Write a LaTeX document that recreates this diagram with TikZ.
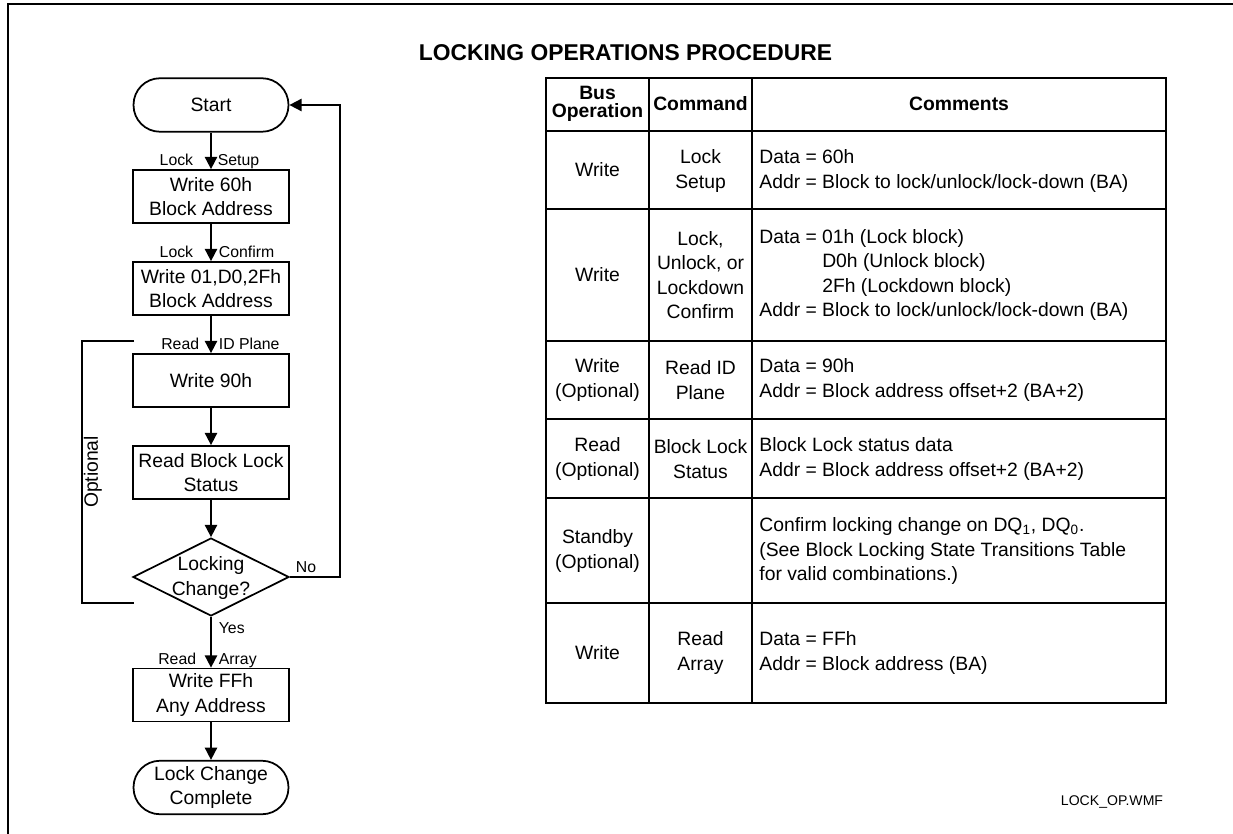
\documentclass[tikz,border=0pt]{standalone}
\usepackage{fontspec}
\setmainfont{Liberation Sans}
\usetikzlibrary{arrows.meta,shapes.geometric}

\newcommand{\chartfont}{\fontsize{11}{13.8}\selectfont}
\newcommand{\lblfont}{\fontsize{9}{10}\selectfont}

\tikzset{
  procbox/.style={draw, minimum width=3.12cm, minimum height=1.06cm, inner sep=1pt, align=center},
  termbox/.style={draw, rounded corners=0.53cm, minimum width=3.1cm, minimum height=1.07cm, inner sep=1pt, align=center},
  decision/.style={draw, diamond, minimum width=3.12cm, minimum height=1.56cm, inner sep=0pt},
  flow/.style={-{Triangle[length=7pt,width=7pt]}},
  lbl/.style={font=\lblfont, inner sep=0pt},
  cell/.style={align=center, inner sep=1pt},
  headcell/.style={align=center, inner sep=1pt, font=\fontsize{11}{10}\selectfont\bfseries},
  cmt/.style={align=left, anchor=west, inner sep=2pt}
}

\begin{document}
\begin{tikzpicture}[x=0.02cm, y=-0.02cm, line width=1pt, font=\chartfont]
  \useasboundingbox (0,0) rectangle (1233,834);

  % frame
  \draw[line width=1.3pt] (8,834) -- (8,4) -- (1233,4);

  % title
  \node[font=\fontsize{13}{15}\selectfont\bfseries] (title) at (625.5,53) {LOCKING OPERATIONS PROCEDURE};

  % flowchart
  \node[termbox] (start) at (211,105) {Start};
  \node[procbox] (setup) at (211,196.5) {Write 60h\\Block Address};
  \node[procbox] (confirm) at (211,288.5) {Write 01,D0,2Fh\\Block Address};
  \node[procbox] (idplane) at (211,380.5) {Write 90h};
  \node[procbox] (status) at (211,472.5) {Read Block Lock\\Status};
  \node[decision] (check) at (211,577) {};
  \node[align=center, inner sep=0pt] (checktxt) at (211,578) {Locking\\Change?};
  \node[procbox] (array) at (211,695) {Write FFh\\Any Address};
  \node[termbox] (done) at (211,787.5) {Lock Change\\Complete};

  \draw[flow] (start) -- (setup);
  \draw[flow] (setup) -- (confirm);
  \draw[flow] (confirm) -- (idplane);
  \draw[flow] (idplane) -- (status);
  \draw[flow] (status) -- (check);
  \draw[flow] (check) -- (array);
  \draw[flow] (array) -- (done);

  % loop back on No
  \coordinate (noturn) at (340,577);
  \draw[flow] (check.east) -- (noturn) |- (start.east);

  % command labels
  \node[lbl, anchor=base east] (l1a) at (194,166) {Lock};
  \node[lbl, anchor=base west] (l1b) at (217,166) {Setup};
  \node[lbl, anchor=base east] (l2a) at (194,258) {Lock};
  \node[lbl, anchor=base west] (l2b) at (218,258) {Confirm};
  \node[lbl, anchor=base east] (l3a) at (200,349) {Read};
  \node[lbl, anchor=base west] (l3b) at (218,349) {ID Plane};
  \node[lbl, anchor=base east] (l4a) at (197,664) {Read};
  \node[lbl, anchor=base west] (l4b) at (218,664) {Array};
  \node[lbl, anchor=base west] (nolbl) at (295,572) {No};
  \node[lbl, anchor=base west] (yeslbl) at (218,633) {Yes};

  % optional bracket
  \coordinate (optT) at (134,341);
  \coordinate (optB) at (134,603);
  \draw (optT) -- (82,341) -- (82,603) -- (optB);
  \node[rotate=90, inner sep=0pt] (opttxt) at (93,472) {Optional};

  % table grid
  \draw (546,78) rectangle (1166,703);
  \foreach \x in {649,752} \draw (\x,78) -- (\x,703);
  \foreach \y in {131,209,341,419,498,603} \draw (546,\y) -- (1166,\y);

  % header
  \node[headcell] (hop) at (597.5,104) {Bus\\Operation};
  \node[headcell] (hcmd) at (700.5,104) {Command};
  \node[headcell] (hcmt) at (959,104) {Comments};

  % bus operation column
  \node[cell] (op1) at (597.5,170) {Write};
  \node[cell] (op2) at (597.5,275) {Write};
  \node[cell] (op3) at (597.5,380) {Write\\(Optional)};
  \node[cell] (op4) at (597.5,459) {Read\\(Optional)};
  \node[cell] (op5) at (597.5,551) {Standby\\(Optional)};
  \node[cell] (op6) at (597.5,653) {Write};

  % command column
  \node[cell] (cmd1) at (700.5,171) {Lock\\Setup};
  \node[cell] (cmd2) at (700.5,275) {Lock,\\Unlock, or\\Lockdown\\Confirm};
  \node[cell] (cmd3) at (700.5,380) {Read ID\\Plane};
  \node[cell] (cmd4) at (700.5,459) {Block Lock\\Status};
  \node[cell] (cmd6) at (700.5,653) {Read\\Array};

  % comments column
  \node[cmt] (cmt1) at (755,171) {Data = 60h\\Addr = Block to lock/unlock/lock-down (BA)};
  \node[cmt] (cmt2) at (755,275) {Data = 01h (Lock block)\\\phantom{Data = }D0h (Unlock block)\\\phantom{Data = }2Fh (Lockdown block)\\Addr = Block to lock/unlock/lock-down (BA)};
  \node[cmt] (cmt3) at (755,380) {Data = 90h\\Addr = Block address offset+2 (BA+2)};
  \node[cmt] (cmt4) at (755,459) {Block Lock status data\\Addr = Block address offset+2 (BA+2)};
  \node[cmt] (cmt5) at (755,551) {Confirm locking change on DQ\textsubscript{1}, DQ\textsubscript{0}.\\(See Block Locking State Transitions Table\\for valid combinations.)};
  \node[cmt] (cmt6) at (755,653) {Data = FFh\\Addr = Block address (BA)};

  % file tag
  \node[font=\fontsize{8}{9}\selectfont] (fname) at (1112,802) {LOCK\_OP.WMF};
\end{tikzpicture}
\end{document}
